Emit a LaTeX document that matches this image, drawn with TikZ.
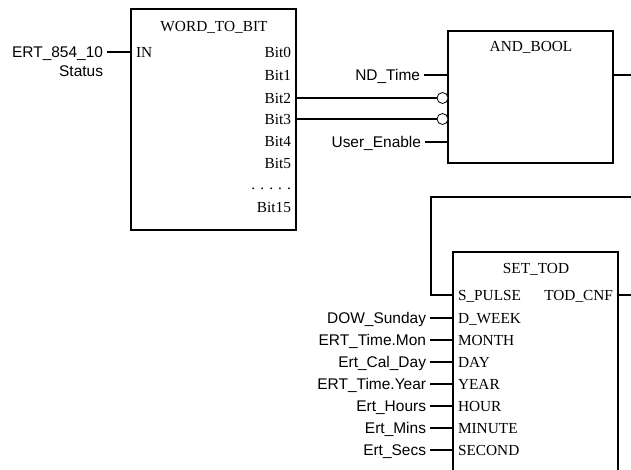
\documentclass[tikz,border=0pt]{standalone}
\usepackage{fontspec}
\setmainfont{Liberation Serif}
\setsansfont{Liberation Sans}
\def\px{0.75pt}
\tikzset{
  fblock/.style={draw,line width=1.3pt,inner sep=0pt,outer sep=0pt,anchor=north west},
  pintext/.style={inner sep=0pt,outer sep=0pt,outer xsep=5*\px,text height=8.2pt,text depth=0pt,font=\fontsize{11.5}{13}\selectfont},
  pinleft/.style={pintext,anchor=west},
  pinright/.style={pintext,anchor=east},
  sigtext/.style={pintext,anchor=east,outer xsep=4*\px,font=\sffamily\fontsize{11.6}{13}\selectfont},
  wire/.style={line width=1.3pt},
  negpin/.style={draw,circle,fill=white,line width=0.6pt,inner sep=0pt,outer sep=0pt,minimum size=11*\px}
}
\begin{document}
\begin{tikzpicture}[x=0.75pt,y=-0.75pt]
\useasboundingbox (0,0) rectangle (631,470);
\clip (0,0) rectangle (631,470);

% WORD_TO_BIT
\node[fblock,minimum width=165*\px,minimum height=221*\px] (wordbit) at (131,9) {};
\node[pintext] (wordtitle) at (214,26.5) {WORD\_TO\_BIT};
\node[pinleft] (inpin) at (131,52) {IN};
\node[sigtext] (ertsig) at (107,52) {ERT\_854\_10};
\node[sigtext] (ertstatus) at (107,71) {Status};
\draw[wire] (ertsig.east) -- (inpin.west);
\foreach \nm/\lbl/\yy in {bita/Bit0/52,bitb/Bit1/75,bitc/Bit2/98,bitd/Bit3/119,bite/Bit4/141,bitf/Bit5/163,bitdots/{. . . . .}/184,bitp/Bit15/207}
  \node[pinright] (\nm) at (296,\yy) {\lbl};

% AND_BOOL
\node[fblock,minimum width=165*\px,minimum height=132*\px] (andbool) at (448,31) {};
\node[pintext] (andtitle) at (531,46.5) {AND\_BOOL};
\node[sigtext] (ndtime) at (424,75) {ND\_Time};
\node[sigtext] (userenable) at (425,142) {User\_Enable};
\node[negpin] (nega) at (442.5,98) {};
\node[negpin] (negb) at (442.5,119) {};
\draw[wire] (ndtime.east) -- (ndtime.east -| andbool.west);
\draw[wire] (userenable.east) -- (userenable.east -| andbool.west);
\draw[wire] (bitc.east) -- (nega.west);
\draw[wire] (bitd.east) -- (negb.west);
\coordinate (andout) at (631,75);
\draw[wire] (andout -| andbool.east) -- (andout);

% SET_TOD
\node[fblock,minimum width=165*\px,minimum height=270*\px] (settod) at (453,252) {};
\node[pintext] (settitle) at (536,268) {SET\_TOD};
\node[pinleft] (spulse) at (453,295) {S\_PULSE};
\node[pinright] (todcnf) at (618,295) {TOD\_CNF};
\coordinate (fbstart) at (631,197);
\coordinate (fbcorner) at (431,197);
\draw[wire] (fbstart) -- (fbcorner) |- (spulse.west);
\coordinate (todout) at (631,295);
\draw[wire] (todcnf.east) -- (todout);
\foreach \nm/\sig/\lbl/\yy in {
  week/DOW\_Sunday/D\_WEEK/318,
  month/ERT\_Time.Mon/MONTH/340,
  day/Ert\_Cal\_Day/DAY/362,
  year/ERT\_Time.Year/YEAR/384,
  hour/Ert\_Hours/HOUR/406,
  minute/Ert\_Mins/MINUTE/428,
  second/Ert\_Secs/SECOND/450}{
  \node[pinleft] (\nm pin) at (453,\yy) {\lbl};
  \node[sigtext] (\nm sig) at (430,\yy) {\sig};
  \draw[wire] (\nm sig.east) -- (\nm pin.west);
}
\end{tikzpicture}
\end{document}
